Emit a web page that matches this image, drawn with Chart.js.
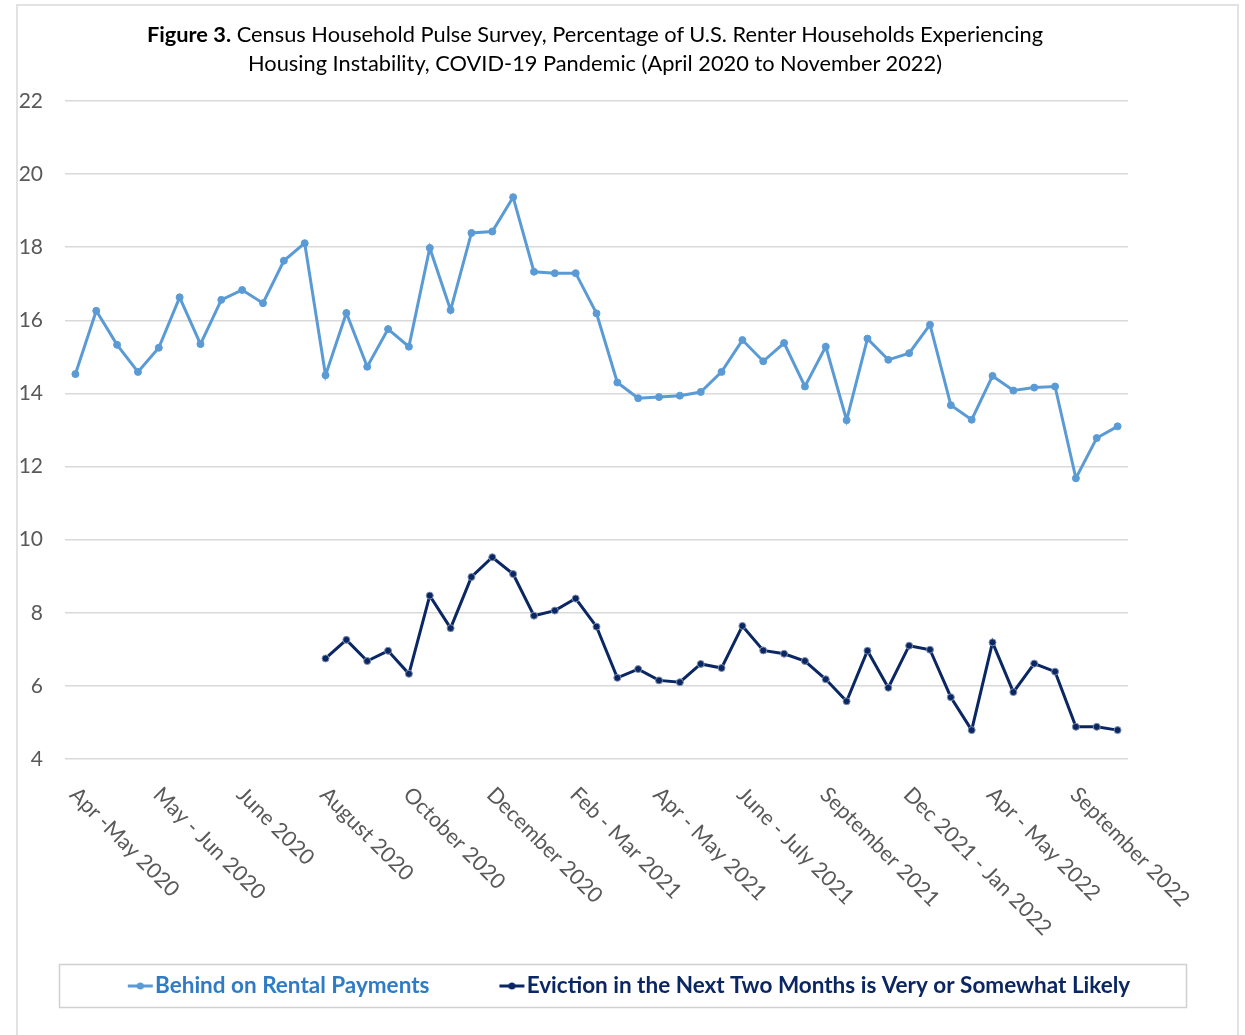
<!DOCTYPE html>
<html>
<head>
<meta charset="utf-8">
<script src="https://cdn.jsdelivr.net/npm/chart.js@4.4.1/dist/chart.umd.min.js"></script>
<style>
  html, body { margin: 0; padding: 0; background: #fff; }
  body { width: 1245px; height: 1035px; position: relative; overflow: hidden; }
  #frame { position: absolute; left: 16px; top: 4px; width: 1223px; height: 1100px; border: 2px solid #e2e2e2; box-sizing: border-box; }
  #title { position: absolute; left: 0; top: 19px; width: 1190px; text-align: center;
           font-family: Lato, sans-serif; font-size: 21.8px; line-height: 29px; color: #000; }
  #c { position: absolute; left: 0; top: 0; }
</style>
</head>
<body>
<div id="frame"></div>
<canvas id="c" width="1245" height="1035"></canvas>
<div id="title"><b>Figure 3.</b> Census Household Pulse Survey, Percentage of U.S. Renter Households Experiencing<br>Housing Instability, COVID-19 Pandemic (April 2020 to November 2022)</div>
<script>
// labels shown under every 4th survey period
const tickLabels = ['Apr -May 2020', 'May - Jun 2020', 'June 2020', 'August 2020', 'October 2020',
  'December 2020', 'Feb - Mar 2021', 'Apr - May 2021', 'June - July 2021', 'September 2021',
  'Dec 2021 - Jan 2022', 'Apr - May 2022', 'September 2022'];
const labelEvery = 4;

const behindRent = [14.53, 16.26, 15.33, 14.59, 15.25, 16.63, 15.35, 16.56, 16.83, 16.47,
  17.63, 18.11, 14.5, 16.2, 14.73, 15.76, 15.28, 17.98, 16.28, 18.39,
  18.43, 19.37, 17.33, 17.29, 17.29, 16.19, 14.3, 13.87, 13.9, 13.94,
  14.04, 14.59, 15.46, 14.88, 15.38, 14.19, 15.28, 13.27, 15.5, 14.92,
  15.1, 15.88, 13.68, 13.28, 14.48, 14.08, 14.16, 14.19, 11.68, 12.78, 13.1];

const evictionLikely = [null, null, null, null, null, null, null, null, null, null, null, null,
  6.75, 7.26, 6.68, 6.96, 6.33, 8.47, 7.58, 8.98, 9.52, 9.06,
  7.92, 8.06, 8.39, 7.62, 6.22, 6.46, 6.15, 6.1, 6.6, 6.49,
  7.64, 6.97, 6.88, 6.68, 6.18, 5.58, 6.96, 5.95, 7.1, 6.99,
  5.69, 4.79, 7.19, 5.83, 6.61, 6.39, 4.88, 4.88, 4.79];

const seriesNames = ['Behind on Rental Payments', 'Eviction in the Next Two Months is Very or Somewhat Likely'];
const yMin = 4, yMax = 22, yStep = 2;

const categories = behindRent.map((_, i) => i % labelEvery === 0 ? tickLabels[i / labelEvery] : '');

const lineColors = ['#5b9bd5', '#0b2763'];
const legendText = ['#2f7bc4', '#0b2763'];
const FONT = 'Lato, sans-serif';

// legend marker: short line with a dot, drawn right next to the text
function marker(color) {
  const c = document.createElement('canvas');
  c.width = 46; c.height = 10;
  const g = c.getContext('2d');
  g.strokeStyle = color; g.lineWidth = 3;
  g.beginPath(); g.moveTo(20, 5); g.lineTo(45, 5); g.stroke();
  g.fillStyle = color;
  g.beginPath(); g.arc(32.5, 5, 3.5, 0, Math.PI * 2); g.fill();
  return c;
}
const markers = lineColors.map(marker);

// x labels go down-right from each tick, so draw them ourselves
const xLabels = {
  id: 'xLabels',
  afterDraw(chart) {
    const { ctx, scales: { x }, chartArea } = chart;
    ctx.save();
    ctx.font = '21.5px ' + FONT;
    ctx.fillStyle = '#595959';
    ctx.textAlign = 'left';
    ctx.textBaseline = 'middle';
    categories.forEach((lab, i) => {
      if (!lab) return;
      ctx.save();
      ctx.translate(x.getPixelForValue(i) - 2, chartArea.bottom + 32);
      ctx.rotate(Math.PI / 4);
      ctx.fillText(lab, 0, 0);
      ctx.restore();
    });
    ctx.restore();
  }
};

// frame round the legend
const legendBox = {
  id: 'legendBox',
  afterDraw(chart) {
    const ctx = chart.ctx;
    ctx.save();
    ctx.strokeStyle = '#d0d0d0';
    ctx.lineWidth = 1.5;
    ctx.strokeRect(59.5, 964.5, 1127, 43);
    ctx.restore();
  }
};

new Chart(document.getElementById('c'), {
  type: 'line',
  data: {
    labels: categories,
    datasets: [
      { label: seriesNames[0], data: behindRent, borderColor: lineColors[0], backgroundColor: lineColors[0],
        borderWidth: 3, pointRadius: 3.5, pointBorderWidth: 1, pointBorderColor: lineColors[0], tension: 0 },
      { label: seriesNames[1], data: evictionLikely, borderColor: lineColors[1], backgroundColor: lineColors[1],
        borderWidth: 3, pointRadius: 3.5, pointBorderWidth: 1, pointBorderColor: '#7f8fb0', tension: 0 }
    ]
  },
  options: {
    responsive: false,
    animation: false,
    layout: { padding: { left: 18, right: 15, top: 101, bottom: 27.75 } },
    plugins: {
      tooltip: { enabled: false },
      legend: {
        position: 'bottom',
        fullSize: true,
        align: 'center',
        labels: {
          usePointStyle: true,
          pointStyleWidth: 26,
          padding: 60,
          font: { family: FONT, size: 22.5, weight: 'bold' },
          generateLabels: chart => chart.data.datasets.map((ds, i) => ({
            text: ds.label, fontColor: legendText[i], pointStyle: markers[i],
            fillStyle: ds.borderColor, strokeStyle: ds.borderColor, lineWidth: 0,
            hidden: false, datasetIndex: i
          }))
        }
      }
    },
    scales: {
      x: {
        offset: true,
        grid: { display: false },
        border: { display: false },
        ticks: { display: false },
        afterFit: s => { s.height = 155.75; }
      },
      y: {
        min: yMin, max: yMax,
        ticks: { stepSize: yStep, padding: 22, color: '#595959', font: { family: FONT, size: 21 } },
        grid: { color: '#d9d9d9', lineWidth: 1.5, drawTicks: false },
        border: { display: false },
        afterFit: s => { s.width = 47; }
      },
      // empty right axis, only keeps room so the legend centres like the original
      y2: {
        position: 'right',
        ticks: { display: false },
        grid: { display: false },
        border: { display: false },
        afterFit: s => { s.width = 102; }
      }
    }
  },
  plugins: [xLabels, legendBox]
});
</script>
</body>
</html>
